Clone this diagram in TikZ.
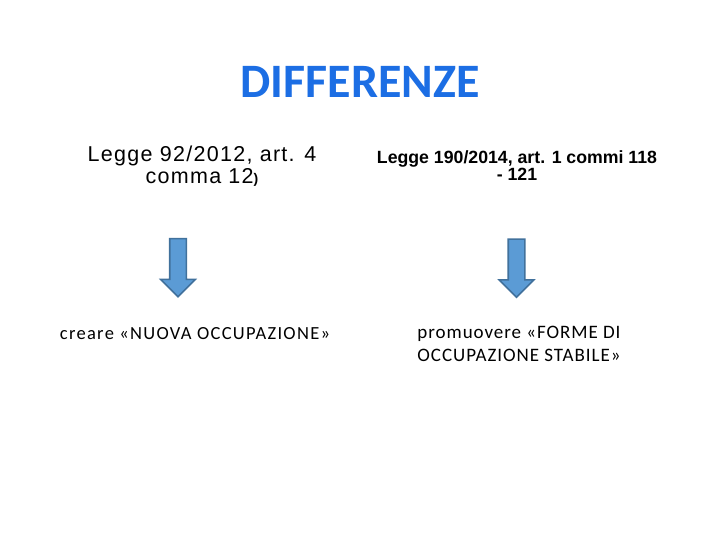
\documentclass[tikz,border=0pt]{standalone}
\usepackage{fontspec}
\usetikzlibrary{shapes.arrows}
\newfontfamily\calibri{Carlito}
\newfontfamily\calibriwide[LetterSpace=7]{Carlito}
\newfontfamily\calibrimid[LetterSpace=5]{Carlito}
\newfontfamily\arial{Liberation Sans}
\newfontfamily\arialwide[LetterSpace=6]{Liberation Sans}
\definecolor{titleblue}{RGB}{28,110,228}
\definecolor{arrowfill}{RGB}{91,155,213}
\definecolor{arrowline}{RGB}{65,113,156}

\begin{document}
\begin{tikzpicture}[x=1bp, y=-1bp, every node/.style={inner sep=0pt, outer sep=0pt, anchor=base, align=center},
  downarrow/.style={single arrow, anchor=center, rotate=-90, fill=arrowfill, draw=arrowline, line width=1.6bp, minimum height=58bp, inner sep=7.5bp, single arrow head extend=9bp, single arrow head indent=0pt}]
\useasboundingbox[fill=white] (0,0) rectangle (720,540);

\node[text=titleblue, font=\calibri\bfseries\fontsize{48bp}{52bp}\selectfont] (title) at (360,98) {DIFFERENZE};

\node[font=\arialwide\fontsize{21.5bp}{22bp}\selectfont] (leggeA) at (202,184) {Legge 92/2012, art. 4\\ comma 12{\bfseries\fontsize{14bp}{14bp}\selectfont )}};
\node[font=\arial\bfseries\fontsize{17.7bp}{15bp}\selectfont] (leggeB) at (517,181) {Legge 190/2014, art. 1 commi 118\\ - 121};

\node[downarrow] (arrowA) at (178,263.5) {};
\node[downarrow] (arrowB) at (516.5,264) {};

\node[font=\calibriwide\fontsize{18.5bp}{21bp}\selectfont] (creare) at (195,339) {creare «NUOVA OCCUPAZIONE»};
\node[font=\calibrimid\fontsize{19bp}{23bp}\selectfont] (promuovere) at (519,361) {promuovere «FORME DI\\ OCCUPAZIONE STABILE»};
\end{tikzpicture}
\end{document}
